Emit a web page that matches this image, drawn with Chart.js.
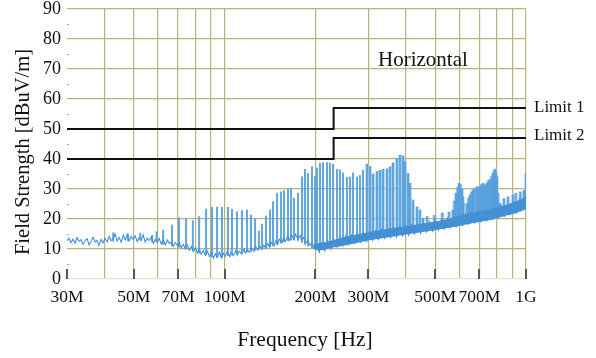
<!DOCTYPE html>
<html>
<head>
<meta charset="utf-8">
<script src="https://cdn.jsdelivr.net/npm/chart.js@4.4.1/dist/chart.umd.min.js"></script>
<style>
  html, body { margin: 0; padding: 0; background: #fff; }
  #wrap { position: relative; width: 596px; height: 358px; }
</style>
</head>
<body>
<div id="wrap"><canvas id="emc"></canvas></div>
<script>
// frequencies in MHz, levels in dBuV/m
const gridFreqs = [30, 40, 50, 60, 70, 80, 90, 100, 200, 300, 400, 500, 600, 700, 800, 900, 1000]
const labelFreqs = [30, 50, 70, 100, 200, 300, 500, 700, 1000]
const labelText = ['30M', '50M', '70M', '100M', '200M', '300M', '500M', '700M', '1G']

const limit1Freqs = [30, 230, 230, 1000]
const limit1Levels = [50, 50, 57, 57]
const limit2Freqs = [30, 230, 230, 1000]
const limit2Levels = [40, 40, 47, 47]

// measured noise floor (peak detector sweep)
const floorFreqs = [
  30, 30.46, 30.9, 31.4, 31.9, 32.4, 32.9, 33.4, 33.9, 34.5, 35.0, 35.5, 36.1, 36.6, 37.2, 37.7,
  38.3, 38.9, 39.5, 40.1, 40.8, 41.4, 42.0, 42.7, 43.3, 44.0, 44.7, 45.4, 46.1, 46.8, 47.5, 48.2,
  49.0, 49.7, 50.5, 51.3, 52.1, 52.9, 53.7, 54.5, 55.4, 56.2, 57.1, 58.0, 58.9, 59.8, 60.7, 61.6,
  62.6, 63.6, 64.6, 65.6, 66.6, 67.6, 68.6, 69.7, 70.8, 71.9, 73.0, 74.1, 75.2, 76.4, 77.6, 78.8,
  80.0, 81.2, 82.5, 83.7, 85.0, 86.3, 87.7, 89.0, 90.4, 91.8, 93.2, 94.6, 96.1, 97.6, 99.1, 100.6,
  102, 104, 105, 107, 109, 110, 112, 114, 116, 117, 119, 121, 123, 125, 127, 129,
  131, 133, 135, 137, 139, 141, 143, 146, 148, 150, 152, 155, 157, 159, 162, 164,
  167, 170, 172, 175, 178, 180, 183, 186, 189, 192, 195, 198,
  201, 206, 210, 215, 220, 225, 230, 236, 241, 247, 252, 258, 264, 270, 276, 283,
  289, 296, 303, 310, 317, 324, 332, 340, 347, 355, 364, 372, 381, 390, 399, 408,
  417, 427, 437, 447, 457, 468, 479, 490, 501, 513, 525, 537, 549, 562, 575, 588,
  602, 616, 630, 645, 660, 675, 690, 706, 723, 740, 757, 774, 792, 811, 829, 849,
  868, 888, 909, 930, 952, 974, 996, 1000
]
const floorLevels = [
  12.8, 13.6, 12.1, 13.3, 11.9, 13.8, 12.6, 13.1, 11.6, 12.9, 13.4, 11.4, 12.7, 13.9, 12.3, 12.9,
  11.2, 13.2, 12.0, 13.5, 12.4, 14.1, 12.8, 13.4, 15.1, 12.6, 13.8, 12.2, 14.6, 13.0, 14.9, 12.7,
  14.2, 13.1, 14.4, 12.5, 13.9, 12.9, 14.7, 12.3, 13.6, 12.8, 14.0, 11.9, 13.2, 12.4, 13.5, 11.7,
  12.9, 11.4, 13.0, 11.8, 12.4, 10.9, 12.1, 11.3, 12.0, 10.4, 11.5, 10.1, 11.3, 9.6, 10.8, 9.2,
  10.5, 8.7, 9.9, 8.2, 9.6, 7.9, 9.3, 7.5, 8.8, 6.9, 8.4, 7.2, 9.0, 7.0, 8.6, 7.6,
  9.2, 7.4, 8.9, 7.8, 9.5, 8.0, 9.3, 8.3, 10.0, 8.6, 9.8, 8.9, 10.4, 9.2, 10.7, 9.6,
  10.9, 9.9, 11.3, 10.2, 11.8, 10.6, 12.2, 11.1, 12.8, 11.6, 13.3, 12.1, 13.7, 12.5, 14.2, 12.9,
  14.6, 13.2, 14.9, 13.4, 14.5, 12.9, 13.8, 12.0, 12.9, 11.2, 12.2, 10.3,
  11.5, 8.9, 12.0, 9.4, 12.6, 10.0, 13.1, 10.6, 13.9, 11.0, 14.3, 11.5, 14.6, 11.9, 15.0, 12.3,
  15.4, 12.6, 15.8, 12.9, 16.1, 13.2, 16.5, 13.5, 16.8, 13.8, 17.1, 14.0, 17.4, 14.3, 17.7, 14.6,
  18.0, 15.0, 18.4, 15.3, 18.7, 15.7, 19.1, 16.0, 19.5, 16.4, 19.9, 16.8, 20.3, 17.2, 20.8, 17.6,
  21.2, 18.0, 21.6, 18.4, 22.0, 18.8, 22.4, 19.2, 22.9, 19.6, 23.3, 20.1, 23.8, 20.6, 24.3, 21.1,
  24.8, 21.6, 25.4, 22.2, 26.6, 23.4, 27.6, 24.5
]

// envelope of the dense floor band above 200 MHz
const bandFreqs = [198, 210, 230, 250, 280, 300, 330, 360, 400, 450, 500, 550, 600, 650, 700, 750, 800, 850, 900, 950, 1000]
const bandLo = [9.8, 9.6, 10.5, 11.2, 12.2, 12.8, 13.5, 14.1, 14.8, 15.6, 16.3, 17.0, 17.8, 18.5, 19.1, 19.7, 20.3, 21.0, 21.7, 22.4, 23.5]
const bandHi = [11.8, 12.0, 13.0, 14.0, 15.0, 15.6, 16.3, 17.0, 17.6, 18.4, 19.2, 20.0, 21.0, 21.8, 22.5, 23.2, 23.9, 24.6, 25.4, 26.3, 27.5]

// harmonic spikes: frequency, floor level under the spike, peak level
const spikeFreqs = [
  42.7, 47.8, 52.5, 57.5, 59.5,
  62.5, 66.9, 70.6, 74.5, 78.5, 82.3, 86.8, 90.8, 94.4, 98.0, 102.6, 105.8, 109.9, 114.2, 118.7, 122.3,
  126.2, 130, 133.1, 137.2, 141.5, 144.8, 149.3, 153.9, 157.4, 162.3, 166.1, 169.9, 175.2, 180.7, 184.8, 189.1,
  195.0, 199.5, 202.6, 207.3, 212.1, 218.7, 223.7, 229.0, 236.0, 241.5, 247.1, 254.8, 260.7, 266.7, 275.0, 281.3,
  287.9, 296.8, 303.7, 310.8, 320.4, 327.8, 335.5, 345.9, 353.9, 362.1, 373.3, 382.0, 390.9, 396.9, 406.1, 412.3,
  421.8, 435.0, 445.0, 455.4, 470, 497, 528, 556, 572.6, 579, 586, 593, 599.5, 606, 613.5, 617,
  620, 632.5, 637, 645, 652, 660, 667, 676, 688, 696, 704, 712, 720, 731, 742, 751,
  760, 769, 777, 783, 789, 795, 801, 808, 820, 845, 872, 905, 925, 958, 985, 1000
]
const spikeBases = [
  12.6, 12.8, 12.9, 12.3, 12.2,
  11.5, 11, 10.5, 10, 9.3, 8.6, 8, 7.4, 7.2, 7.4, 7.8, 8, 8.3, 8.6, 9, 9.3,
  9.6, 10, 10.2, 10.5, 10.8, 11, 11.5, 12, 12.4, 12.8, 13, 13, 12.8, 12.2, 11.5, 11,
  10.4, 10, 9.8, 9.8, 10, 10.2, 10.5, 10.8, 11, 11.3, 11.6, 11.9, 12.2, 12.5, 12.8, 13,
  13.2, 13.5, 13.7, 14, 14.2, 14.4, 14.6, 14.8, 15, 15.2, 15.4, 15.6, 15.8, 16, 16.2, 16.4,
  16.6, 16.8, 17, 17.2, 16, 16.3, 16.8, 17.2, 17.5, 17.5, 17.6, 17.7, 17.8, 17.9, 18, 18,
  18.1, 18.3, 18.4, 18.5, 18.6, 18.7, 18.8, 18.9, 19, 19.1, 19.2, 19.3, 19.4, 19.5, 19.6, 19.7,
  19.8, 19.9, 20, 20.1, 20.2, 20.3, 20.4, 20.5, 20.7, 21, 21.4, 21.8, 22, 22.6, 23, 23.5
]
const spikeTops = [
  15.4, 15.0, 15.3, 14.6, 15.8,
  16.3, 18, 20.4, 20, 19.4, 20.8, 23.3, 23.9, 23.9, 23.9, 23.9, 23.2, 22.4, 22.8, 23, 21.3,
  20, 16, 18.3, 21, 23, 25.8, 28.6, 29.1, 29.5, 29.9, 30.2, 27, 28.6, 34.1, 36.6, 35.2,
  37.4, 34.1, 37, 38.6, 38.8, 38.8, 38.6, 38.3, 36.6, 36.4, 35.4, 33.9, 34, 35.4, 34, 34.5,
  36.3, 38.3, 37.5, 35, 35.8, 36.2, 36.6, 36.7, 37.4, 38.7, 40.2, 41.3, 41, 39.1, 35.2, 31.9,
  26.3, 24, 23, 20.2, 20.8, 21.2, 22, 22.3, 23, 26, 28.6, 30.5, 31.9, 31.5, 30, 27.5,
  25.3, 20.8, 25.2, 27, 28, 29, 29.7, 30.3, 30.8, 30.5, 30.9, 31.5, 31.9, 31.4, 32, 32.8,
  33.2, 34.2, 35.2, 36, 36.6, 35.8, 34.1, 28.6, 25.2, 26.8, 27.4, 28, 28.6, 29, 29.5, 35
]

const serif = "'Liberation Serif', 'Times New Roman', serif"
const gridColor = '#b9b47f'
const traceBlue = '#4490d4'

const xy = (xs, ys) => xs.map((x, i) => ({ x, y: ys[i] }))
const spikeData = spikeFreqs.map((f, i) => ({ x: f, y: [spikeBases[i], spikeTops[i]] }))
const denseSpikeData = spikeData.filter(d => d.x >= 290)

const decorations = {
  id: 'decorations',
  afterDatasetsDraw(chart) {
    const { ctx, chartArea: a, scales: { x, y } } = chart
    ctx.save()
    // tick marks along the bottom edge
    ctx.strokeStyle = '#555'
    ctx.lineWidth = 2
    labelFreqs.forEach(f => {
      const px = Math.round(x.getPixelForValue(f))
      ctx.beginPath(); ctx.moveTo(px, a.bottom); ctx.lineTo(px, a.bottom - 10); ctx.stroke()
    })
    // minor ticks on the level axis
    ctx.strokeStyle = '#aaa'
    ctx.lineWidth = 1
    for (let v = 5; v < 90; v += 10) {
      const py = Math.round(y.getPixelForValue(v)) + 0.5
      ctx.beginPath(); ctx.moveTo(a.left, py); ctx.lineTo(a.left + 2, py); ctx.stroke()
    }
    ctx.fillStyle = '#111'
    ctx.textBaseline = 'middle'
    ctx.textAlign = 'left'
    ctx.font = '17px ' + serif
    ctx.fillText('Limit 1', a.right + 8, y.getPixelForValue(57))
    ctx.fillText('Limit 2', a.right + 8, y.getPixelForValue(47) - 2)
    ctx.textAlign = 'center'
    ctx.font = '21px ' + serif
    ctx.fillText('Horizontal', x.getPixelForValue(455), y.getPixelForValue(73))
    ctx.font = '21.5px ' + serif
    ctx.fillText('Frequency [Hz]', 305, 340)
    ctx.translate(24, 152)
    ctx.rotate(-Math.PI / 2)
    ctx.font = '20.5px ' + serif
    ctx.fillText('Field Strength [dBuV/m]', 0, 0)
    ctx.restore()
  }
}

new Chart(document.getElementById('emc'), {
  type: 'line',
  data: {
    datasets: [
      { label: 'Limit 1', data: xy(limit1Freqs, limit1Levels),
        borderColor: '#111', borderWidth: 2, pointRadius: 0, order: 0 },
      { label: 'Limit 2', data: xy(limit2Freqs, limit2Levels),
        borderColor: '#111', borderWidth: 2, pointRadius: 0, order: 0 },
      { label: 'Floor', data: xy(floorFreqs, floorLevels), borderColor: traceBlue, borderWidth: 1.1,
        pointRadius: 0, tension: 0, order: 1 },
      { label: 'Band low', data: xy(bandFreqs, bandLo), borderWidth: 0, borderColor: 'rgba(0,0,0,0)',
        pointRadius: 0, order: 1.5 },
      { label: 'Band high', data: xy(bandFreqs, bandHi), borderWidth: 0, borderColor: 'rgba(0,0,0,0)',
        pointRadius: 0, fill: 3, backgroundColor: traceBlue, order: 1.5 },
      { type: 'bar', label: 'Spikes', data: spikeData, backgroundColor: 'rgba(84,158,220,0.9)',
        barThickness: 1.4, grouped: false, order: 2 },
      { type: 'bar', label: 'Dense', data: denseSpikeData, backgroundColor: 'rgba(150,196,235,0.5)',
        barThickness: 3.5, grouped: false, order: 3 }
    ]
  },
  options: {
    responsive: true,
    maintainAspectRatio: false,
    animation: false,
    events: [],
    layout: { padding: { left: 0, right: 70, top: 9, bottom: 0 } },
    plugins: { legend: { display: false }, tooltip: { enabled: false } },
    scales: {
      x: {
        type: 'logarithmic', min: 30, max: 1000, offset: false,
        afterBuildTicks: s => { s.ticks = gridFreqs.map(v => ({ value: v })) },
        afterFit: s => { s.height = 79 },
        border: { display: false },
        grid: { offset: false, drawTicks: false, lineWidth: 1.2,
          color: c => c.tick && c.tick.value === 30 ? 'rgba(0,0,0,0)' : gridColor },
        ticks: {
          autoSkip: false, maxRotation: 0, padding: 8, color: '#111',
          font: { family: serif, size: 17.5 },
          callback: v => { const i = labelFreqs.indexOf(v); return i >= 0 ? labelText[i] : '' }
        }
      },
      y: {
        min: 0, max: 90,
        afterFit: s => { s.width = 67 },
        border: { display: false },
        grid: { drawTicks: false, lineWidth: 1.2,
          color: c => c.tick && c.tick.value === 0 ? '#e8e5cf' : gridColor },
        ticks: { stepSize: 10, padding: 6, color: '#111', font: { family: serif, size: 18, lineHeight: 0.33 } }
      }
    }
  },
  plugins: [decorations]
})
</script>
</body>
</html>
